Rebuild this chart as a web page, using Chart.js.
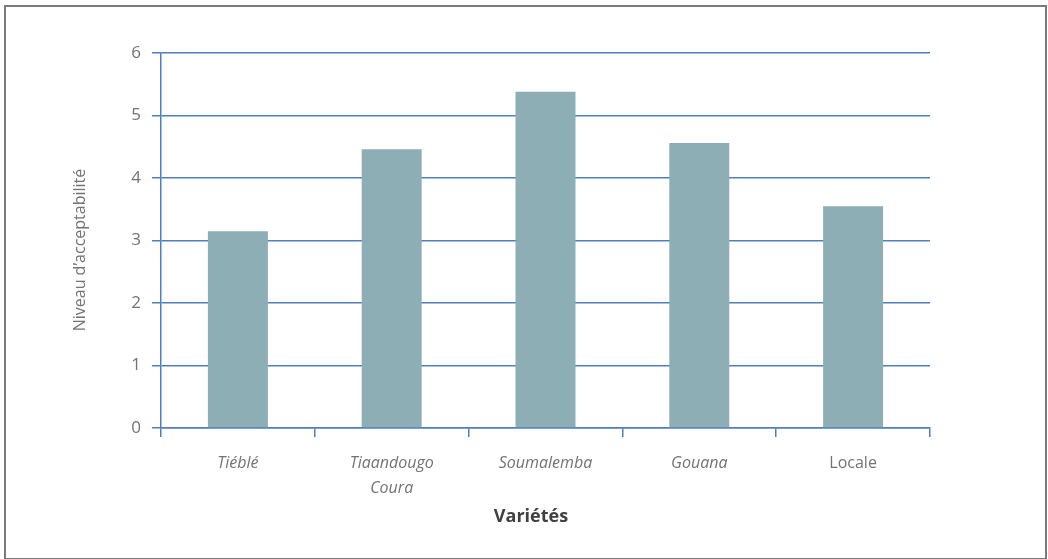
<!DOCTYPE html>
<html>
<head>
<meta charset="utf-8">
<script src="https://cdn.jsdelivr.net/npm/chart.js@4/dist/chart.umd.min.js"></script>
<style>
  html, body { margin: 0; padding: 0; background: #ffffff; }
  #frame { position: absolute; left: 4px; top: 5px; width: 1039px; height: 551px; border: 2px solid #7a7a7a; }
  #wrap { position: absolute; left: 0; top: 0; width: 1048px; height: 559px; }
</style>
</head>
<body>
<div id="frame"></div>
<div id="wrap"><canvas id="c" width="1048" height="559"></canvas></div>
<script>
const categories = ['Tiéblé', ['Tiaandougo', 'Coura'], 'Soumalemba', 'Gouana', 'Locale'];
const italicLabels = [true, true, true, true, false];
const values = [3.15, 4.46, 5.38, 4.56, 3.55];
const yTicks = [0, 1, 2, 3, 4, 5, 6];
const yTitle = 'Niveau d\u2019acceptabilité';
const xTitle = 'Variétés';

const FONT = '"Open Sans", Lato, sans-serif';
const BLUE = '#4f7fbf';
const GRAY = '#737373';

const titlesPlugin = {
  id: 'titlesPlugin',
  afterDraw(chart) {
    const ctx = chart.ctx;
    ctx.save();
    ctx.font = 'bold 18px ' + FONT;
    ctx.fillStyle = '#404040';
    ctx.textAlign = 'center';
    ctx.textBaseline = 'middle';
    ctx.fillText(xTitle, 531, 517);
    ctx.restore();

    ctx.save();
    ctx.translate(80, 250);
    ctx.rotate(-Math.PI / 2);
    ctx.font = '16px ' + FONT;
    ctx.fillStyle = GRAY;
    ctx.textAlign = 'center';
    ctx.textBaseline = 'middle';
    ctx.fillText(yTitle, 0, 0);
    ctx.restore();
  }
};

new Chart(document.getElementById('c'), {
  type: 'bar',
  data: {
    labels: categories,
    datasets: [{
      data: values,
      backgroundColor: '#8caeb4',
      borderWidth: 0,
      categoryPercentage: 1,
      barPercentage: 0.39
    }]
  },
  options: {
    responsive: false,
    animation: false,
    devicePixelRatio: 1,
    layout: { padding: { left: 60, right: 118, top: 53, bottom: 0 } },
    plugins: { legend: { display: false }, tooltip: { enabled: false } },
    scales: {
      x: {
        afterFit: (s) => { s.height = 131; },
        grid: { display: true, drawOnChartArea: false, drawTicks: true, tickLength: 9, color: BLUE, lineWidth: 1.5, offset: true },
        border: { display: true, color: BLUE, width: 1.5 },
        ticks: {
          color: GRAY,
          padding: 14,
          maxRotation: 0,
          font: (ctx) => ({ family: FONT, size: 16, style: italicLabels[ctx.index] ? 'italic' : 'normal', lineHeight: 1.55 })
        },
        title: { display: false }
      },
      y: {
        min: 0, max: 6,
        afterFit: (s) => { s.width = 101; },
        afterBuildTicks: (s) => { s.ticks = yTicks.map(v => ({ value: v })); },
        grid: { color: BLUE, lineWidth: 1.5, tickLength: 9, drawTicks: true },
        border: { display: true, color: BLUE, width: 1.5 },
        ticks: { color: GRAY, padding: 11, font: { family: FONT, size: 17 } },
        title: { display: false }
      }
    }
  },
  plugins: [titlesPlugin]
});
</script>
</body>
</html>
